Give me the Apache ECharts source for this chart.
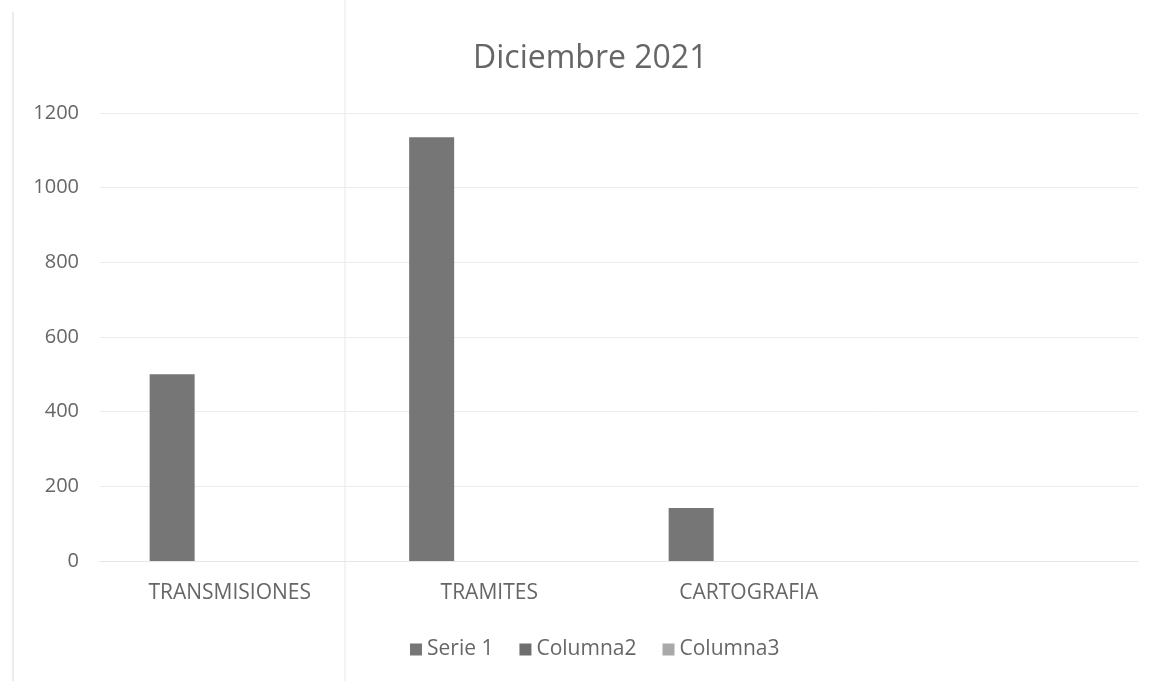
<!DOCTYPE html>
<html>
<head>
<meta charset="utf-8">
<script src="https://cdn.jsdelivr.net/npm/echarts@6/dist/echarts.min.js"></script>
<style>
html,body{margin:0;padding:0;background:#fff;}
#chart{width:1159px;height:681px;}
</style>
</head>
<body>
<div id="chart"></div>
<script>
const titleText = 'Diciembre 2021';
const categories = ['TRANSMISIONES', 'TRAMITES', 'CARTOGRAFIA', ''];
const serie1 = [500, 1135, 142, null];
const columna2 = [null, null, null, null];
const columna3 = [null, null, null, null];
const seriesNames = ['Serie 1', 'Columna2', 'Columna3'];
const yTicks = [0, 200, 400, 600, 800, 1000, 1200];

const FONT = '"Open Sans", "Noto Sans", sans-serif';
const chart = echarts.init(document.getElementById('chart'));
chart.setOption({
  backgroundColor: '#ffffff',
  animation: false,
  title: {
    text: titleText,
    left: 468,
    top: 38,
    textStyle: {fontFamily: FONT, fontSize: 32, fontWeight: 'normal', color: '#666666'}
  },
  legend: {
    top: 634,
    left: 405,
    itemWidth: 12,
    itemHeight: 12,
    itemGap: 26,
    icon: 'rect',
    textStyle: {fontFamily: FONT, fontSize: 21, color: '#666666'},
    data: seriesNames
  },
  grid: {left: 100, right: 21, top: 113, bottom: 120, containLabel: false},
  xAxis: {
    type: 'category',
    data: categories,
    axisLine: {show: true, lineStyle: {color: '#e6e6e6'}},
    axisTick: {show: false},
    axisLabel: {fontFamily: FONT, fontSize: 21, color: '#666666', margin: 22},
    splitLine: {show: false}
  },
  yAxis: {
    type: 'value',
    min: yTicks[0],
    max: yTicks[yTicks.length - 1],
    interval: 200,
    axisLine: {show: false},
    axisTick: {show: false},
    axisLabel: {fontFamily: FONT, fontSize: 20, color: '#666666', margin: 21, formatter: function (v) { return String(v); }},
    splitLine: {lineStyle: {color: '#ececec', width: 1}}
  },
  graphic: [
    {type: 'line', shape: {x1: 345, y1: 0, x2: 345, y2: 681}, style: {stroke: '#e8e8e8', lineWidth: 1}, silent: true},
    {type: 'line', shape: {x1: 13, y1: 12, x2: 13, y2: 681}, style: {stroke: '#ececec', lineWidth: 2}, silent: true}
  ],
  series: [
    {name: seriesNames[0], type: 'bar', data: serie1, barWidth: 45, barGap: '28%', itemStyle: {color: '#767676'}},
    {name: seriesNames[1], type: 'bar', data: columna2, barWidth: 45, barGap: '28%', itemStyle: {color: '#6e6e6e'}},
    {name: seriesNames[2], type: 'bar', data: columna3, barWidth: 45, barGap: '28%', itemStyle: {color: '#a9a9a9'}}
  ]
});
</script>
</body>
</html>
